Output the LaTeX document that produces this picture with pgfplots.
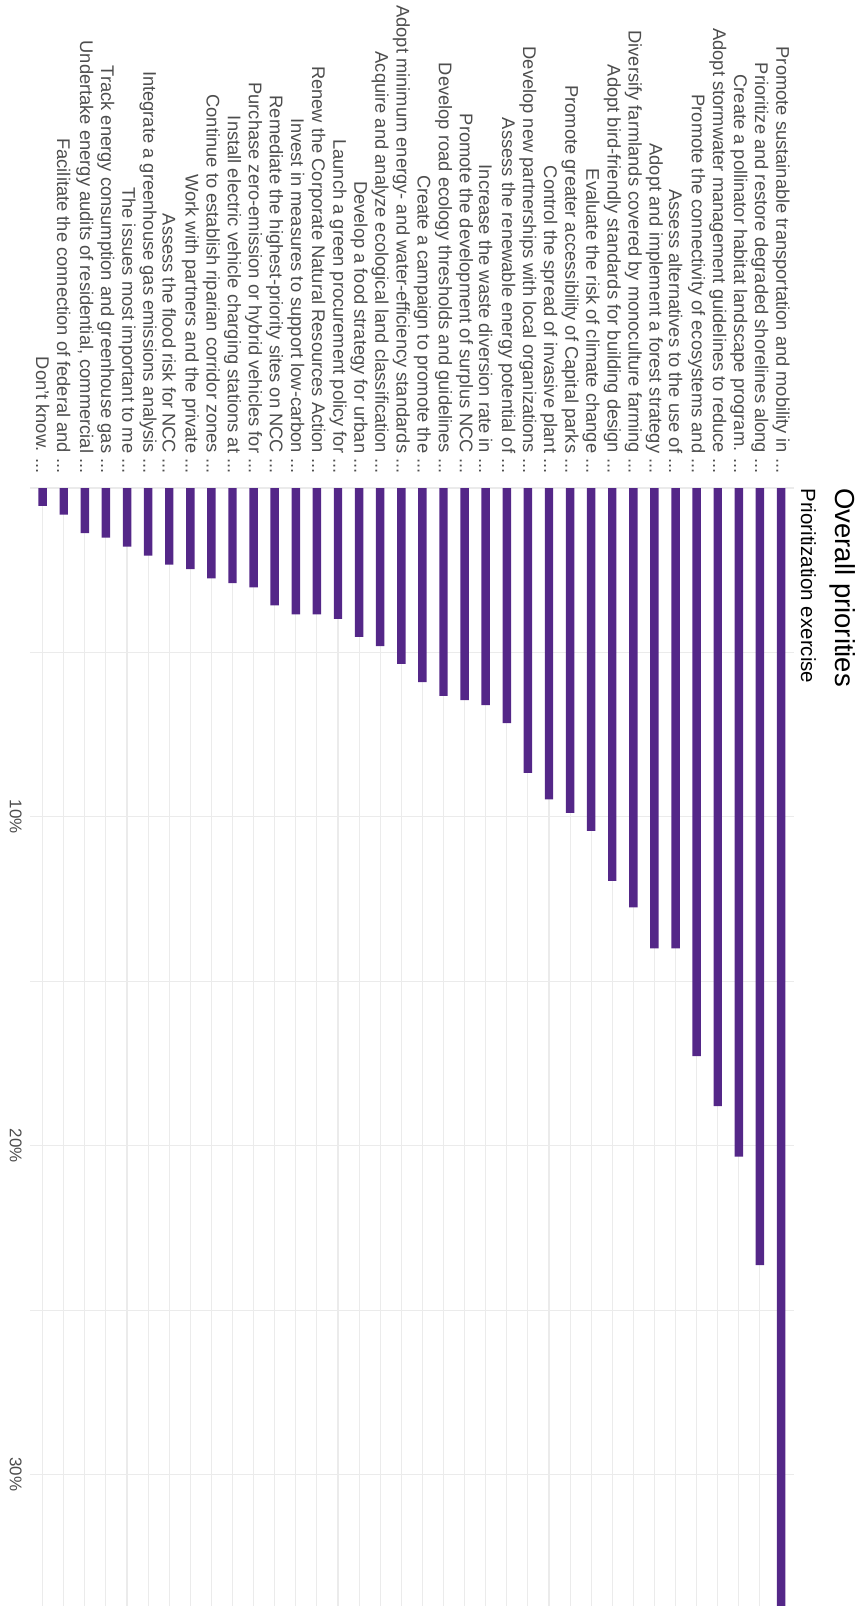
\documentclass[border=0pt]{standalone}
\usepackage{fontspec}
\setmainfont{Liberation Sans}
\usepackage{pgfplots}
\pgfplotsset{compat=1.18}

\definecolor{barpurple}{HTML}{542788}
\definecolor{gridgrey}{HTML}{EBEBEB}
\definecolor{labelgrey}{HTML}{4D4D4D}

% three dots that the tick list does not read as a range
\newcommand{\etc}{.{}.{}.}

\begin{document}
\begin{tikzpicture}
% chart is drawn already turned a quarter clockwise: categories run right to left, values run downwards
\begin{axis}[
    at={(0,0)}, anchor=south west,
    scale only axis,
    width=381.85bp, height=559bp,
    x dir=reverse, y dir=reverse,
    xmin=0.4, xmax=36.6,
    ymin=0, ymax=34,
    xtick={1,2,3,4,5,6,7,8,9,10,11,12,13,14,15,16,17,18,19,20,21,22,23,24,25,26,27,28,29,30,31,32,33,34,35,36},
    xticklabels={
        {Promote sustainable transportation and mobility in \etc},
        {Prioritize and restore degraded shorelines along \etc},
        {Create a pollinator habitat landscape program. \etc},
        {Adopt stormwater management guidelines to reduce \etc},
        {Promote the connectivity of ecosystems and \etc},
        {Assess alternatives to the use of \etc},
        {Adopt and implement a forest strategy \etc},
        {Diversify farmlands covered by monoculture farming \etc},
        {Adopt bird-friendly standards for building design \etc},
        {Evaluate the risk of climate change \etc},
        {Promote greater accessibility of Capital parks \etc},
        {Control the spread of invasive plant \etc},
        {Develop new partnerships with local organizations \etc},
        {Assess the renewable energy potential of \etc},
        {Increase the waste diversion rate in \etc},
        {Promote the development of surplus NCC \etc},
        {Develop road ecology thresholds and guidelines \etc},
        {Create a campaign to promote the \etc},
        {Adopt minimum energy- and water-efficiency standards \etc},
        {Acquire and analyze ecological land classification \etc},
        {Develop a food strategy for urban \etc},
        {Launch a green procurement policy for \etc},
        {Renew the Corporate Natural Resources Action \etc},
        {Invest in measures to support low-carbon \etc},
        {Remediate the highest-priority sites on NCC \etc},
        {Purchase zero-emission or hybrid vehicles for \etc},
        {Install electric vehicle charging stations at \etc},
        {Continue to establish riparian corridor zones \etc},
        {Work with partners and the private \etc},
        {Assess the flood risk for NCC \etc},
        {Integrate a greenhouse gas emissions analysis \etc},
        {The issues most important to me \etc},
        {Track energy consumption and greenhouse gas \etc},
        {Undertake energy audits of residential, commercial \etc},
        {Facilitate the connection of federal and \etc},
        {Don't know. \etc}
    },
    ytick={0,10,20,30},
    yticklabels={,10\%,20\%,30\%},
    minor ytick={5,15,25},
    major tick length=0pt, minor tick length=0pt,
    axis line style={draw=none},
    xmajorgrids, ymajorgrids, yminorgrids,
    major grid style={gridgrey, line width=0.55bp},
    minor grid style={gridgrey, line width=0.45bp},
    xticklabel pos=upper,
    xticklabel style={rotate=-90, anchor=east, inner sep=0pt,
        font=\fontsize{9.2}{9.2}\selectfont, text=labelgrey},
    xticklabel shift=7bp,
    yticklabel pos=left,
    yticklabel style={rotate=-90, anchor=north, inner sep=0pt,
        font=\fontsize{8.5}{8.5}\selectfont, text=labelgrey},
    yticklabel shift=4bp,
]
\addplot[ybar, bar width=0.4, fill=barpurple, draw=none] coordinates {
    (1,34.0) (2,23.63) (3,20.33) (4,18.80) (5,17.28) (6,14.0)
    (7,14.0) (8,12.75) (9,11.95) (10,10.43) (11,9.88) (12,9.47)
    (13,8.66) (14,7.15) (15,6.60) (16,6.45) (17,6.32) (18,5.90)
    (19,5.35) (20,4.81) (21,4.53) (22,3.98) (23,3.84) (24,3.84)
    (25,3.57) (26,3.02) (27,2.89) (28,2.75) (29,2.47) (30,2.33)
    (31,2.06) (32,1.78) (33,1.51) (34,1.37) (35,0.81) (36,0.54)
};
\end{axis}

% title and subtitle, turned with the chart
\node[rotate=-90, anchor=base west, inner sep=0pt,
    font=\fontsize{13.8}{13.8}\selectfont] at (402.5bp,559bp) {Overall priorities};
\node[rotate=-90, anchor=base west, inner sep=0pt,
    font=\fontsize{10.3}{10.3}\selectfont] at (385.5bp,559bp) {Prioritization exercise};

\pgfresetboundingbox
\path[use as bounding box] (-15bp,0) rectangle (418.5bp,803bp);
\end{tikzpicture}
\end{document}
